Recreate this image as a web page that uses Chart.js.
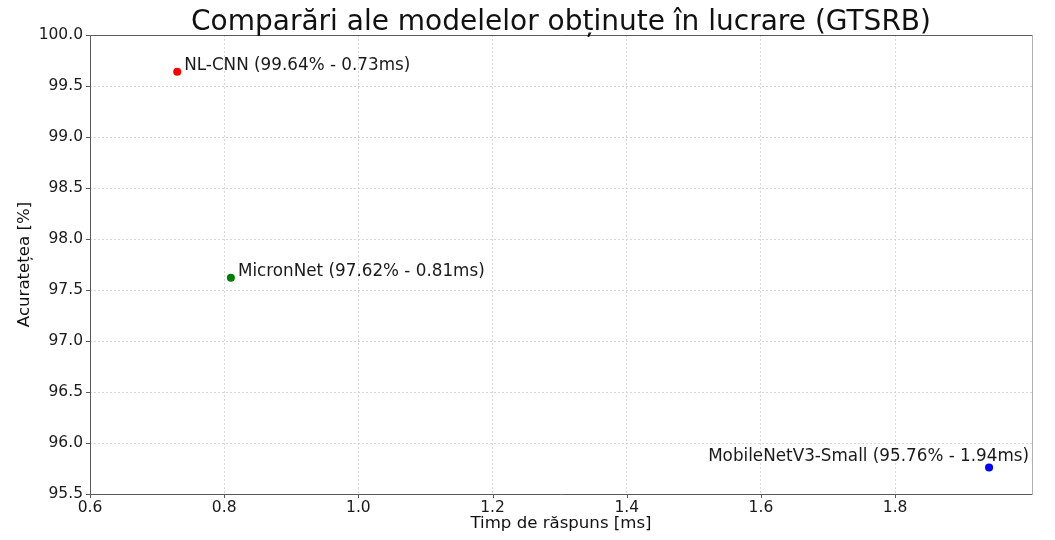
<!DOCTYPE html>
<html><head><meta charset="utf-8">
<script src="https://cdn.jsdelivr.net/npm/chart.js@4/dist/chart.umd.min.js"></script>
<style>html,body{margin:0;padding:0;background:#fff}</style>
</head><body>
<canvas id="c" width="1055" height="540"></canvas>
<script>
const chartTitle = 'Comparări ale modelelor obținute în lucrare (GTSRB)';
const xTitle = 'Timp de răspuns [ms]';
const yTitle = 'Acuratețea [%]';
const models = ['NL-CNN', 'MicronNet', 'MobileNetV3-Small'];
const times = [0.73, 0.81, 1.94];
const accuracies = [99.64, 97.62, 95.76];
const colors = ['#ff0000', '#008000', '#0000ff'];
const xTicks = [0.6, 0.8, 1.0, 1.2, 1.4, 1.6, 1.8];
const yTicks = [95.5, 96.0, 96.5, 97.0, 97.5, 98.0, 98.5, 99.0, 99.5, 100.0];
const xRange = [0.6, 2.004];
const yRange = [95.5, 100.0];
const labelStyle = [
  {dx: 7, dy: -6, align: 'left'},
  {dx: 7, dy: -6, align: 'left'},
  {dx: 40, dy: -11, align: 'right'}
];
const FAM = "'DejaVu Sans', sans-serif";

const overlay = {
  id: 'overlay',
  afterDraw(chart) {
    const ctx = chart.ctx, a = chart.chartArea;
    const xs = chart.scales.x, ys = chart.scales.y;
    ctx.save();
    // frame
    ctx.lineWidth = 1;
    ctx.strokeStyle = '#5a5a5a';
    ctx.beginPath();
    ctx.moveTo(a.left + 0.5, a.top + 0.5); ctx.lineTo(a.left + 0.5, a.bottom + 0.5);
    ctx.lineTo(a.right + 0.5, a.bottom + 0.5);
    ctx.moveTo(a.left + 0.5, a.top + 0.5); ctx.lineTo(a.right + 0.5, a.top + 0.5);
    ctx.stroke();
    ctx.strokeStyle = '#b0b0b0';
    ctx.beginPath();
    ctx.moveTo(a.right + 0.5, a.top + 0.5); ctx.lineTo(a.right + 0.5, a.bottom + 0.5);
    ctx.stroke();
    // tick marks
    ctx.strokeStyle = '#5a5a5a';
    ctx.beginPath();
    xs.ticks.forEach(t => { const p = Math.round(xs.getPixelForValue(t.value)) + 0.5; ctx.moveTo(p, a.bottom); ctx.lineTo(p, a.bottom + 4); });
    ys.ticks.forEach(t => { const p = Math.round(ys.getPixelForValue(t.value)) + 0.5; ctx.moveTo(a.left - 4, p); ctx.lineTo(a.left, p); });
    ctx.stroke();
    // point labels
    ctx.fillStyle = '#1a1a1a';
    ctx.font = '16.8px ' + FAM;
    ctx.textBaseline = 'middle';
    models.forEach((m, i) => {
      const px = xs.getPixelForValue(times[i]), py = ys.getPixelForValue(accuracies[i]);
      const st = labelStyle[i];
      ctx.textAlign = st.align;
      ctx.fillText(m + ' (' + accuracies[i].toFixed(2) + '% - ' + times[i].toFixed(2) + 'ms)', px + st.dx, py + st.dy);
    });
    // title
    ctx.fillStyle = '#111';
    ctx.textAlign = 'center';
    ctx.textBaseline = 'alphabetic';
    ctx.font = '28px ' + FAM;
    ctx.fillText(chartTitle, (a.left + a.right) / 2, 30);
    // axis titles
    ctx.font = '16.6px ' + FAM;
    ctx.textBaseline = 'middle';
    ctx.fillText(xTitle, (a.left + a.right) / 2, 524);
    ctx.translate(25, (a.top + a.bottom) / 2);
    ctx.rotate(-Math.PI / 2);
    ctx.fillText(yTitle, 0, 0);
    ctx.restore();
  }
};

new Chart(document.getElementById('c'), {
  type: 'scatter',
  data: {
    datasets: [{
      data: times.map((t, i) => ({x: t, y: accuracies[i]})),
      backgroundColor: colors,
      borderColor: colors,
      pointRadius: 4,
      pointHoverRadius: 4,
      borderWidth: 0
    }]
  },
  options: {
    responsive: false,
    animation: false,
    devicePixelRatio: 1,
    layout: {padding: {top: 35, right: 23, left: 0, bottom: 0}},
    plugins: {legend: {display: false}, tooltip: {enabled: false}, title: {display: false}},
    scales: {
      x: {
        type: 'linear', min: xRange[0], max: xRange[1],
        afterBuildTicks: s => { s.ticks = xTicks.map(v => ({value: v})); },
        afterFit: s => { s.height = 46; },
        ticks: {callback: v => Number(v).toFixed(1), color: '#1a1a1a', font: {size: 15.5, family: FAM}, padding: 5, maxRotation: 0, autoSkip: false},
        grid: {color: '#d6d6d6', lineWidth: 1, drawTicks: false, borderDash: [2, 2]},
        border: {display: false, dash: [2, 2]}
      },
      y: {
        type: 'linear', min: yRange[0], max: yRange[1],
        afterBuildTicks: s => { s.ticks = yTicks.map(v => ({value: v})); },
        afterFit: s => { s.width = 90; },
        ticks: {callback: v => Number(v).toFixed(1), color: '#1a1a1a', font: {size: 15.5, family: FAM}, padding: 7, autoSkip: false},
        grid: {color: '#d6d6d6', lineWidth: 1, drawTicks: false, borderDash: [2, 2]},
        border: {display: false, dash: [2, 2]}
      }
    }
  },
  plugins: [overlay]
});
</script>
</body></html>
